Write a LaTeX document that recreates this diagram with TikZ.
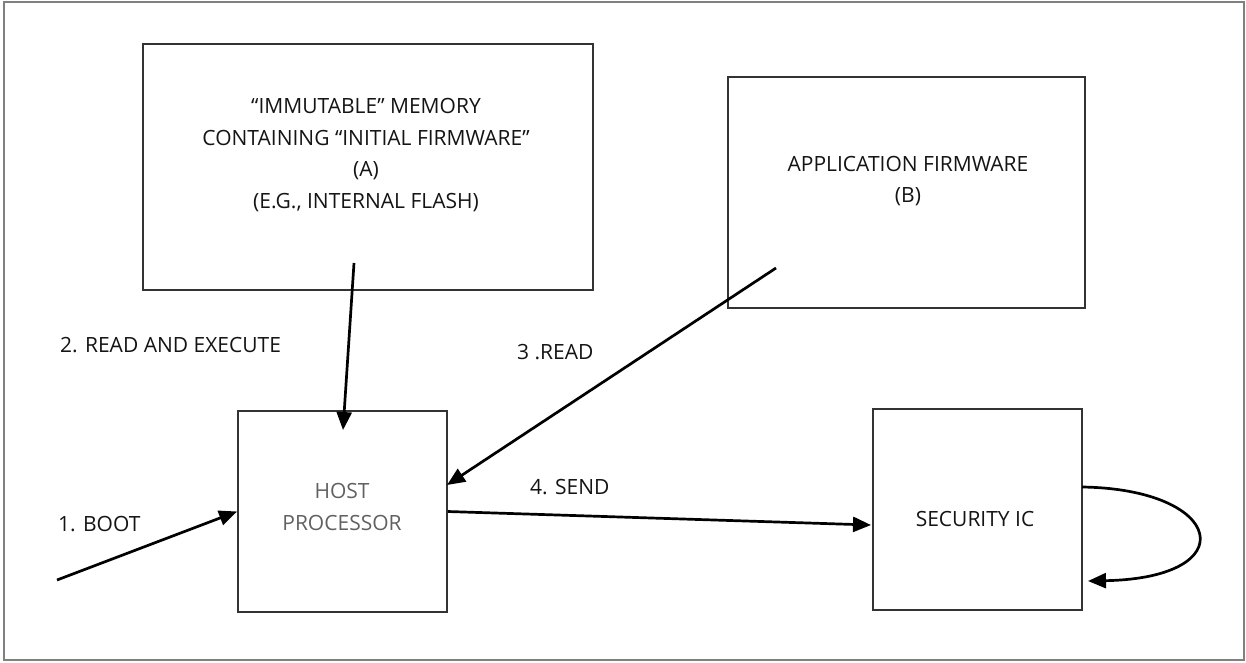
\documentclass[tikz,border=0pt]{standalone}
\usepackage{fontspec}
\setmainfont{Open Sans}
\usetikzlibrary{arrows.meta}

\begin{document}
\begin{tikzpicture}[x=1pt,y=-1pt,
  box/.style={draw=black!80,line width=1.8pt,inner sep=0pt},
  lbl/.style={inner sep=0pt,font=\fontsize{21}{31.5}\selectfont,text=black!92},
  arr/.style={line width=2.7pt,-{Triangle[length=18pt,width=15pt]}}]
\useasboundingbox (0,0) rectangle (1246,662);
\draw[draw=black!50,line width=2.4pt] (4,2) rectangle (1244,660);
\node (mem) [box,minimum width=450pt,minimum height=246pt] at (368,167) {};
\node (app) [box,minimum width=357pt,minimum height=231pt] at (906.5,192.5) {};
\node (host) [box,minimum width=209pt,minimum height=201pt] at (342.5,511.5) {};
\node (sec) [box,minimum width=209pt,minimum height=201pt] at (977.5,509.5) {};
\node (memtxt) [lbl,align=center] at (366,155) {“IMMUTABLE” MEMORY\\CONTAINING “INITIAL FIRMWARE”\\(A)\\(E.G., INTERNAL FLASH)};
\node (apptxt) [lbl,align=center] at (908,181) {APPLICATION FIRMWARE\\(B)};
\node (hosttxt) [lbl,align=center,text=black!62] at (342,507) {HOST\\PROCESSOR};
\node (sectxt) [lbl] at (975,519) {SECURITY IC};
\draw (60,345) node (lblexec) [lbl,anchor=west] {2. READ AND EXECUTE};
\draw (58,524) node (lblboot) [lbl,anchor=west] {1. BOOT};
\draw (517,352) node (lblread) [lbl,anchor=west] {3 .READ};
\draw (530,487) node (lblsend) [lbl,anchor=west] {4. SEND};
\coordinate (bootin) at (57,580);
\coordinate (memout) at (354,263);
\coordinate (hosttop) at (343,430);
\coordinate (appout) at (776,268);
\coordinate (hostright) at (447,485);
\coordinate (secin) at (871,525);
\coordinate (loopout) at (1082,487);
\coordinate (loopin) at (1088,581);
\draw[arr] (bootin) -- (host.west);
\draw[arr] (memout) -- (hosttop);
\draw[arr] (appout) -- (hostright);
\draw[arr] (host.east) -- (secin);
\draw[arr] (loopout) .. controls (1225,489) and (1245,578) .. (loopin);
\end{tikzpicture}
\end{document}
